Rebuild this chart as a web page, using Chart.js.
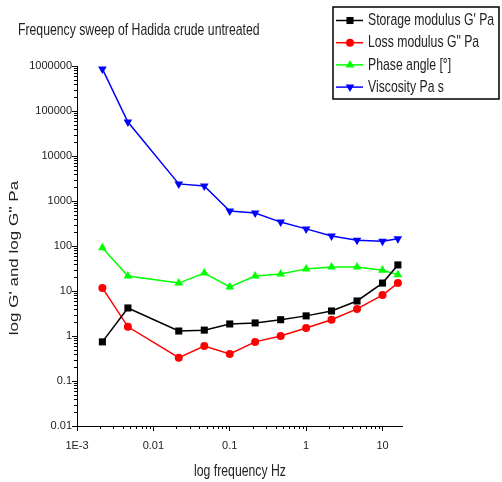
<!DOCTYPE html>
<html>
<head>
<meta charset="utf-8">
<script src="https://cdn.jsdelivr.net/npm/chart.js@4/dist/chart.umd.min.js"></script>
<style>
  body { margin: 0; background: #fff; }
  canvas { display: block; }
</style>
</head>
<body>
<canvas id="sweepChart" width="502" height="482"></canvas>
<script>
// frequency sweep data
var freq = [0.00215, 0.00464, 0.0215, 0.0464, 0.1, 0.215, 0.464, 1, 2.15, 4.64, 10, 15.9];
var storage = [0.74, 4.2, 1.29, 1.35, 1.85, 1.95, 2.3, 2.8, 3.6, 6.0, 15, 38];
var loss = [11.7, 1.6, 0.33, 0.6, 0.4, 0.74, 1.0, 1.5, 2.3, 4.0, 8.1, 15];
var phase = [91, 21.6, 15, 25, 12.3, 21.5, 24, 31, 34, 34, 29, 23];
var viscosity = [860000, 57000, 2400, 2150, 600, 540, 340, 240, 167, 135, 128, 145];

var seriesNames = ["Storage modulus G' Pa", 'Loss modulus G" Pa', 'Phase angle [\u00B0]', 'Viscosity Pa s'];
var seriesColors = ['#000000', '#ff0000', '#00ff00', '#0000ff'];

var xTicks = [0.001, 0.01, 0.1, 1, 10];
var xTickLabels = ['1E-3', '0.01', '0.1', '1', '10'];
var yTicks = [0.01, 0.1, 1, 10, 100, 1000, 10000, 100000, 1000000];
var yTickLabels = ['0.01', '0.1', '1', '10', '100', '1000', '10000', '100000', '1000000'];

var chartTitle = 'Frequency sweep of Hadida crude untreated';
var xTitle = 'log frequency Hz';
var yTitle = "log G' and log G'' Pa";

var sans = '"Liberation Sans", Arial, sans-serif';
var squeeze = 0.72; // the source text is horizontally condensed

function isMajor(v) {
  var l = Math.log10(v);
  return Math.abs(l - Math.round(l)) < 1e-6;
}
// major + minor (2..9) ticks up to max
function logTicks(majors, max) {
  var out = [];
  majors.forEach(function (d) {
    for (var m = 1; m <= 9; m++) {
      var v = m * d;
      if (v <= max * 1.0001) out.push({ value: v, major: m == 1 });
    }
  });
  return out;
}
function labelFor(list, labels, v) {
  for (var i = 0; i < list.length; i++) {
    if (Math.abs(list[i] - v) / list[i] < 1e-6) return labels[i];
  }
  return '';
}
function pts(ys) {
  return freq.map(function (f, i) { return { x: f, y: ys[i] }; });
}

var styles = [
  { style: 'rect', radius: 5, rot: 0 },
  { style: 'circle', radius: 4, rot: 0 },
  { style: 'triangle', radius: 5, rot: 0 },
  { style: 'triangle', radius: 5, rot: 180 }
];
var allData = [storage, loss, phase, viscosity];

var datasets = allData.map(function (d, i) {
  return {
    label: seriesNames[i],
    data: pts(d),
    borderColor: seriesColors[i],
    backgroundColor: seriesColors[i],
    borderWidth: 1.5,
    pointStyle: styles[i].style,
    pointRadius: styles[i].radius,
    pointRotation: styles[i].rot,
    pointBorderWidth: 0,
    tension: 0
  };
});

function drawMarker(ctx, x, y, i) {
  var s = styles[i];
  var r = s.radius;
  ctx.beginPath();
  if (s.style == 'rect') {
    var h = r * Math.SQRT1_2;
    ctx.rect(x - h, y - h, 2 * h, 2 * h);
  } else if (s.style == 'circle') {
    ctx.arc(x, y, r, 0, Math.PI * 2);
  } else {
    var dir = s.rot ? -1 : 1;
    var a = Math.PI * 2 / 3;
    ctx.moveTo(x, y - dir * r);
    ctx.lineTo(x + Math.sin(a) * r, y + dir * r / 2);
    ctx.lineTo(x - Math.sin(a) * r, y + dir * r / 2);
    ctx.closePath();
  }
  ctx.fill();
}

// text squeezed horizontally, like the source image
function narrowText(ctx, text, x, y, align) {
  ctx.save();
  ctx.translate(x, y);
  ctx.scale(squeeze, 1);
  ctx.textAlign = align;
  ctx.fillText(text, 0, 0);
  ctx.restore();
}

var decor = {
  id: 'decor',
  afterDraw: function (chart) {
    var ctx = chart.ctx;
    var xs = chart.scales.x, ys = chart.scales.y;
    ctx.save();
    // short minor ticks
    ctx.strokeStyle = '#000';
    ctx.lineWidth = 1;
    ctx.beginPath();
    xs.ticks.forEach(function (t) {
      if (isMajor(t.value)) return;
      var px = Math.round(xs.getPixelForValue(t.value)) + 0.5;
      ctx.moveTo(px, xs.top);
      ctx.lineTo(px, xs.top + 3);
    });
    ys.ticks.forEach(function (t) {
      if (isMajor(t.value)) return;
      var py = Math.round(ys.getPixelForValue(t.value)) + 0.5;
      ctx.moveTo(ys.right, py);
      ctx.lineTo(ys.right - 3, py);
    });
    ctx.stroke();

    ctx.fillStyle = '#222';
    ctx.textBaseline = 'middle';
    ctx.font = '17px ' + sans;
    narrowText(ctx, chartTitle, 18, 30, 'left');
    narrowText(ctx, xTitle, 240, 471, 'center');

    ctx.save();
    ctx.translate(15, 258);
    ctx.rotate(-Math.PI / 2);
    ctx.scale(1, squeeze);
    ctx.textAlign = 'center';
    ctx.fillText(yTitle, 0, 0);
    ctx.restore();

    // legend box
    ctx.strokeStyle = '#000';
    ctx.lineWidth = 1.5;
    ctx.strokeRect(333, 7, 166, 92);
    for (var i = 0; i < seriesNames.length; i++) {
      var y = 20.5 + i * 22.2;
      ctx.strokeStyle = seriesColors[i];
      ctx.fillStyle = seriesColors[i];
      ctx.lineWidth = 1.5;
      ctx.beginPath();
      ctx.moveTo(336, y);
      ctx.lineTo(363, y);
      ctx.stroke();
      drawMarker(ctx, 350, y, i);
      ctx.fillStyle = '#222';
      narrowText(ctx, seriesNames[i], 368, y, 'left');
    }
    ctx.restore();
  }
};

var ctx = document.getElementById('sweepChart').getContext('2d');
var sweepChart = new Chart(ctx, {
  type: 'line',
  data: { datasets: datasets },
  options: {
    responsive: false,
    animation: false,
    layout: { padding: { top: 66, right: 100, left: 0, bottom: 0 } },
    plugins: {
      legend: { display: false },
      tooltip: { enabled: false },
      title: { display: false }
    },
    scales: {
      x: {
        type: 'logarithmic',
        min: 0.001,
        max: 18,
        afterBuildTicks: function (scale) { scale.ticks = logTicks(xTicks, 18); },
        afterFit: function (scale) { scale.height = 56; },
        border: { display: true, color: '#000', width: 1 },
        grid: {
          drawOnChartArea: false,
          tickLength: 5,
          tickColor: function (c) { return c.tick && isMajor(c.tick.value) ? '#000' : 'rgba(0,0,0,0)'; }
        },
        ticks: {
          autoSkip: false,
          maxRotation: 0,
          padding: 8,
          color: '#222',
          font: { family: sans, size: 11 },
          callback: function (v) { return labelFor(xTicks, xTickLabels, v); }
        }
      },
      y: {
        type: 'logarithmic',
        min: 0.01,
        max: 1000000,
        afterBuildTicks: function (scale) { scale.ticks = logTicks(yTicks, 1000000); },
        afterFit: function (scale) { scale.width = 77; },
        border: { display: true, color: '#000', width: 1 },
        grid: {
          drawOnChartArea: false,
          tickLength: 5,
          tickColor: function (c) { return c.tick && isMajor(c.tick.value) ? '#000' : 'rgba(0,0,0,0)'; }
        },
        ticks: {
          autoSkip: false,
          padding: 0,
          color: '#222',
          font: { family: sans, size: 11 },
          callback: function (v) { return labelFor(yTicks, yTickLabels, v); }
        }
      }
    }
  },
  plugins: [decor]
});
</script>
</body>
</html>
